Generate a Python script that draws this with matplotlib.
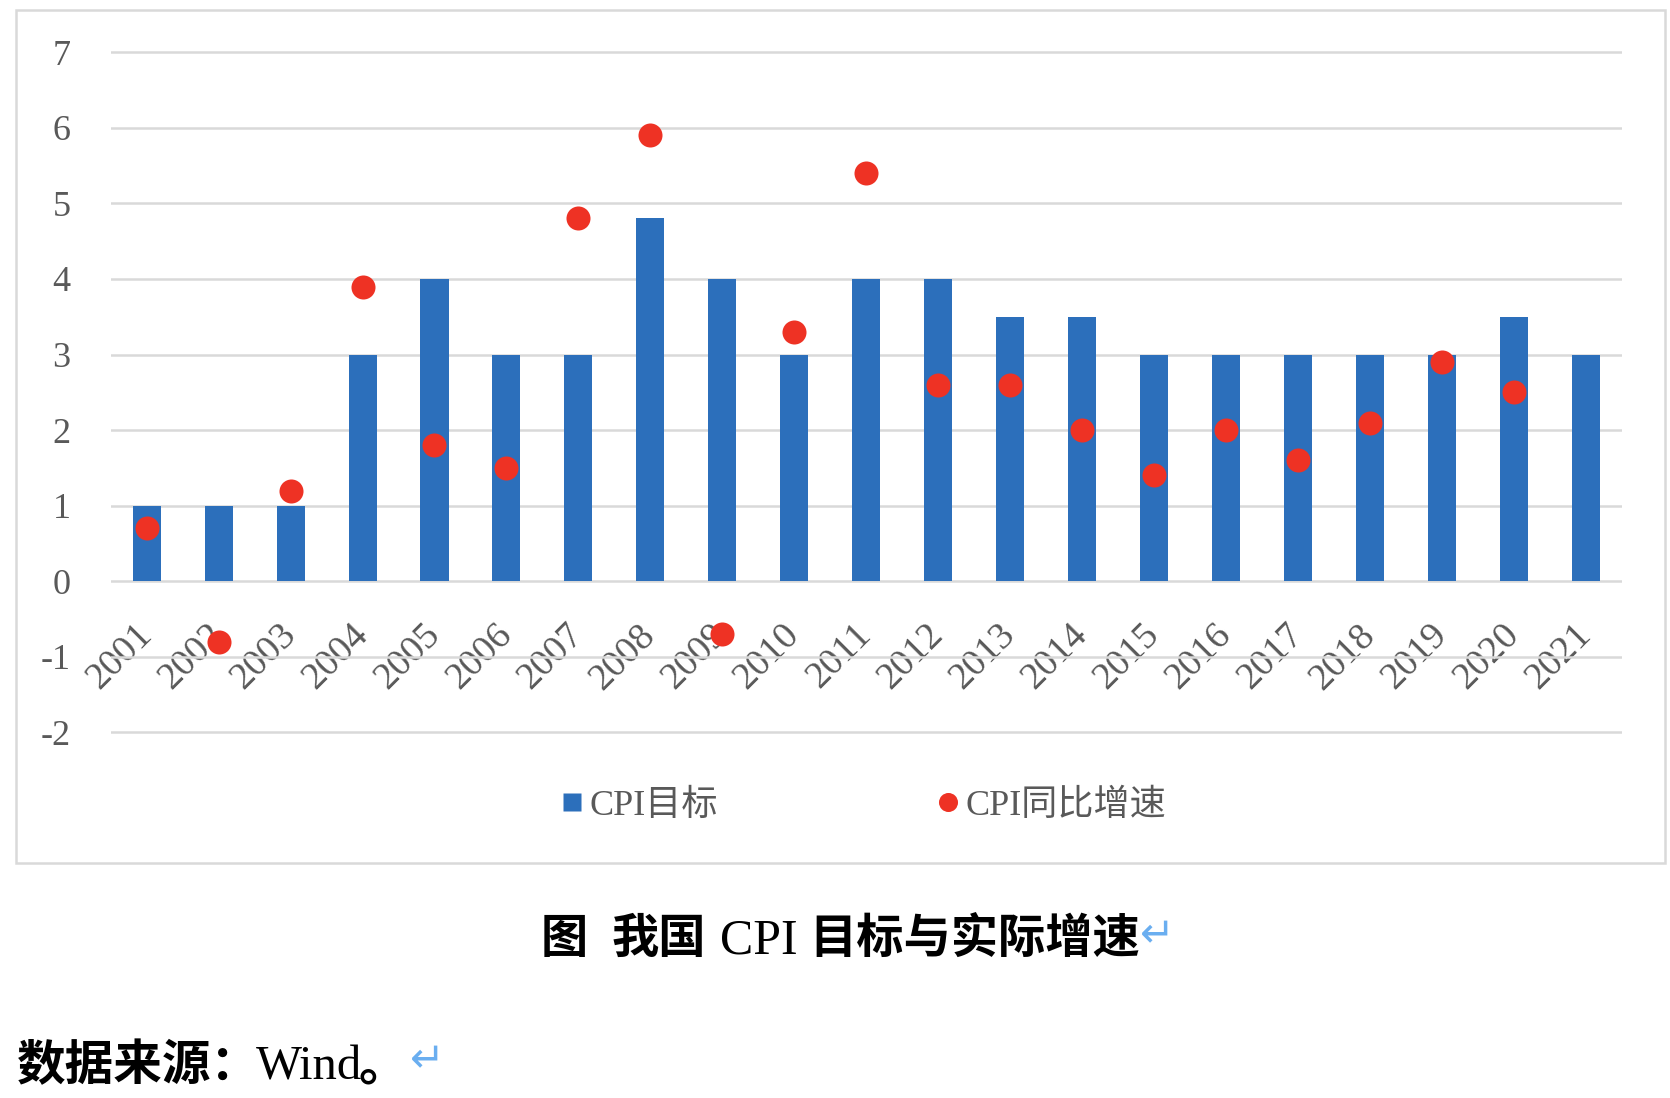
import matplotlib
matplotlib.use("Agg")
import matplotlib.pyplot as plt
from matplotlib.lines import Line2D
from matplotlib.patches import Rectangle
import numpy as np

# ---- data ----
years = ["2001", "2002", "2003", "2004", "2005", "2006", "2007", "2008", "2009", "2010", "2011",
         "2012", "2013", "2014", "2015", "2016", "2017", "2018", "2019", "2020", "2021"]
cpi_target = [1, 1, 1, 3, 4, 3, 3, 4.8, 4, 3, 4, 4, 3.5, 3.5, 3, 3, 3, 3, 3, 3.5, 3]
cpi_actual = [0.7, -0.8, 1.2, 3.9, 1.8, 1.5, 4.8, 5.9, -0.7, 3.3, 5.4, 2.6, 2.6, 2.0, 1.4,
              2.0, 1.6, 2.1, 2.9, 2.5, np.nan]
yticks = [-2, -1, 0, 1, 2, 3, 4, 5, 6, 7]
legend_labels = ["CPI目标", "CPI同比增速"]
caption_parts = ["图", "我国", "CPI", "目标与实际增速"]
source_parts = ["数据来源：", "Wind", "。"]

BLUE = "#2C6FBB"
RED = "#EE3224"
GRID = "#D9D9D9"
TXT = "#595959"
ARROW = "#6AAEF0"
FAM = ["Liberation Serif", "Noto Sans CJK SC", "DejaVu Sans"]
CJK = ["Noto Sans CJK SC", "DejaVu Sans"]

W, H = 1670, 1098
fig = plt.figure(figsize=(W / 100, H / 100), dpi=100)
fig.patch.set_facecolor("white")


def fx(x):
    return x / W


def fy(y):
    return 1 - y / H


# outer chart border
fig.add_artist(Rectangle((fx(16), fy(863)), fx(1665) - fx(16), fy(10) - fy(863),
                         transform=fig.transFigure, fill=False, edgecolor=GRID, lw=1.8))

ax = fig.add_axes([0.06629, 0.32614, 0.90479, 0.63315])
x = np.arange(len(years))
ax.bar(x, cpi_target, width=0.39, color=BLUE, zorder=2)
ax.plot(x, cpi_actual, linestyle="none", marker="o", ms=17.3, color=RED, mec="none", zorder=3)

ax.set_xlim(-0.5, len(years) - 0.5)
ax.set_ylim(-2.1, 7.1)
ax.set_yticks(yticks)
ax.set_yticklabels([str(v) for v in yticks], fontsize=26, color=TXT, family=FAM)
ax.yaxis.grid(True, color=GRID, lw=1.8, zorder=0)
ax.set_axisbelow(True)
for s in ["top", "right", "left"]:
    ax.spines[s].set_visible(False)
ax.spines["bottom"].set_position(("data", 0))
ax.spines["bottom"].set_visible(False)
ax.set_xticks(x)
ax.set_xticklabels(years, fontsize=27.5, color=TXT, family=FAM, rotation=45,
                   ha="right", va="center", rotation_mode="anchor")
ax.tick_params(axis="x", length=0, pad=35)
ax.tick_params(axis="y", length=0, pad=29)

handles = [Line2D([], [], linestyle="none", marker="s", ms=13, color=BLUE, mec="none"),
           Line2D([], [], linestyle="none", marker="o", ms=13.7, color=RED, mec="none")]
leg = fig.legend(handles, legend_labels, loc="center", bbox_to_anchor=(fx(864), fy(806)),
                 ncol=2, frameon=False, handlelength=0.55, handletextpad=0.2,
                 columnspacing=6.1, prop={"family": FAM, "size": 26})
for t in leg.get_texts():
    t.set_color(TXT)

# caption
cap_x = [541, 612, 720, 809]
cap_fams = [CJK, CJK, ["Liberation Serif"], CJK]
cap_wts = ["bold", "bold", "normal", "bold"]
cap_sz = [34, 34, 36, 34]
for s, xx, fam, wt, sz in zip(caption_parts, cap_x, cap_fams, cap_wts, cap_sz):
    fig.text(fx(xx), fy(953), s, family=fam, weight=wt, fontsize=sz, color="black",
             ha="left", va="baseline")
fig.text(fx(1140), fy(935), "↵", family=["DejaVu Sans"], fontsize=30, color=ARROW,
         ha="left", va="center")

# data source line
src_x = [17, 256, 358]
src_fams = [CJK, ["Liberation Serif"], CJK]
src_wts = ["bold", "normal", "bold"]
for s, xx, fam, wt in zip(source_parts, src_x, src_fams, src_wts):
    fig.text(fx(xx), fy(1080), s, family=fam, weight=wt, fontsize=35, color="black",
             ha="left", va="baseline")
fig.text(fx(410), fy(1060), "↵", family=["DejaVu Sans"], fontsize=30, color=ARROW,
         ha="left", va="center")

fig.savefig("out.png", dpi=100, facecolor="white")
